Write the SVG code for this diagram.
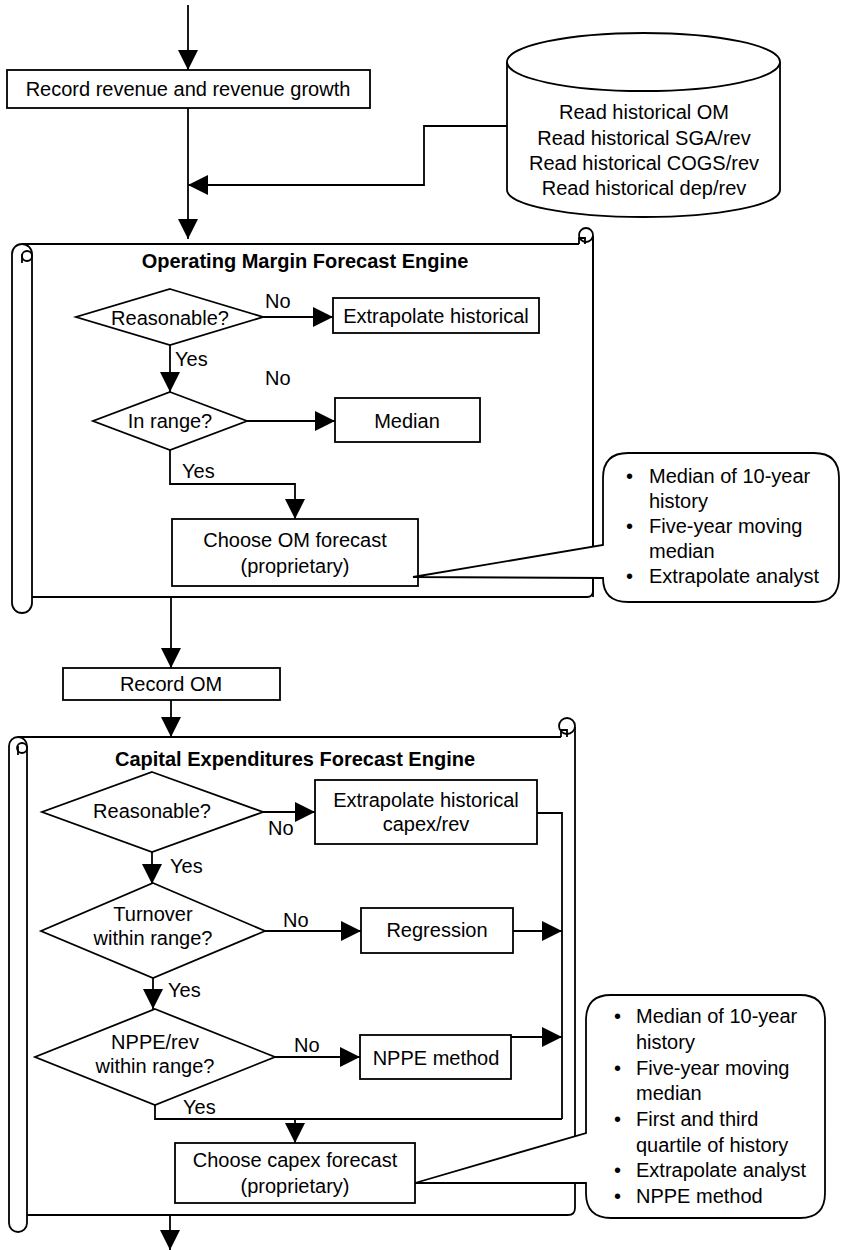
<svg xmlns="http://www.w3.org/2000/svg" width="842" height="1250" viewBox="0 0 842 1250">
  <style>
    .shape { fill: #ffffff; stroke: #000000; stroke-width: 1.8; }
    .open { fill: none; stroke: #000000; stroke-width: 1.8; }
    .wire { fill: none; stroke: #000000; stroke-width: 1.8; }
    .arrow { fill: none; stroke: #000000; stroke-width: 1.8; marker-end: url(#head); }
    text { font-family: "Liberation Sans", Arial, Helvetica, sans-serif; font-size: 20px; fill: #000000; }
    .c { text-anchor: middle; }
    .title { font-weight: bold; text-anchor: middle; }
  </style>
  <defs>
    <marker id="head" viewBox="0 0 20 20" refX="20" refY="10" markerWidth="20" markerHeight="20" markerUnits="userSpaceOnUse" orient="auto">
      <path d="M0,0 L20,10 L0,20 Z" fill="#000000"/>
    </marker>
  </defs>

  <rect width="842" height="1250" fill="#ffffff"/>

  <!-- Operating margin engine frame (scroll) -->
  <g id="om-engine">
    <path class="shape" d="M22 244 H579 M593 236 V591 Q593 597 587 597 H32"/>
    <path class="open" d="M593 236 V597"/>
    <circle class="open" cx="586" cy="235" r="7"/>
    <path class="open" d="M579 244 V238 H585 V244"/>
    <path class="shape" d="M12 603 V254 A10 10 0 0 1 32 254 V603 A10 10 0 0 1 12 603 Z"/>
    <circle class="open" cx="27" cy="256" r="5"/>
    <path class="open" d="M22 254 V263"/>
    <text class="title" x="305" y="268">Operating Margin Forecast Engine</text>
  </g>

  <!-- Capital expenditures engine frame (scroll) -->
  <g id="capex-engine">
    <path class="shape" d="M18 737 H561 M575 727 V1208 Q575 1215 568 1215 H27"/>
    <circle class="open" cx="567" cy="726" r="8"/>
    <path class="open" d="M561 737 V730 H567 V737"/>
    <path class="shape" d="M9 1223 V746 A9 9 0 0 1 27 746 V1223 A9 9 0 0 1 9 1223 Z"/>
    <circle class="open" cx="22" cy="748" r="5"/>
    <path class="open" d="M18 746 V755"/>
    <text class="title" x="295" y="766">Capital Expenditures Forecast Engine</text>
  </g>

  <!-- Connectors -->
  <g id="connectors">
    <path class="arrow" d="M188 5 V70"/>
    <path class="wire" d="M188 108 V185"/>
    <path class="arrow" d="M508 126 H424 V185 H188"/>
    <path class="arrow" d="M188 185 V239"/>

    <path class="arrow" d="M263 317 H333"/>
    <path class="arrow" d="M170 345 V392"/>
    <path class="arrow" d="M247 421 H335"/>
    <path class="arrow" d="M170 450 V484 H295 V519"/>

    <path class="arrow" d="M171 597 V668"/>
    <path class="arrow" d="M171 700 V737"/>

    <path class="arrow" d="M263 812 H315"/>
    <path class="wire" d="M537 813 H562 V1119"/>
    <path class="arrow" d="M152 852 V884"/>
    <path class="arrow" d="M265 931 H361"/>
    <path class="arrow" d="M513 931 H562"/>
    <path class="arrow" d="M153 978 V1009"/>
    <path class="arrow" d="M275 1057 H360"/>
    <path class="arrow" d="M511 1037 H562"/>
    <path class="wire" d="M155 1105 V1119 H562"/>
    <path class="arrow" d="M295 1119 V1143"/>
    <path class="arrow" d="M170 1215 V1250"/>

    <text x="265" y="308">No</text>
    <text x="175" y="366">Yes</text>
    <text x="265" y="385">No</text>
    <text x="182" y="478">Yes</text>
    <text x="268" y="835">No</text>
    <text x="170" y="873">Yes</text>
    <text x="283" y="927">No</text>
    <text x="168" y="997">Yes</text>
    <text x="294" y="1052">No</text>
    <text x="183" y="1114">Yes</text>
  </g>

  <g id="record-revenue">
    <rect class="shape" x="7" y="70" width="363" height="38"/>
    <text class="c" x="188" y="96">Record revenue and revenue growth</text>
  </g>

  <g id="historical-data">
    <path class="shape" d="M507 62 A136.5 29 0 0 1 780 62 V190 A136.5 27 0 0 1 507 190 Z"/>
    <path class="open" d="M507 62 A136.5 29 0 0 0 780 62"/>
    <text class="c" x="644" y="119">Read historical OM</text>
    <text class="c" x="644" y="145">Read historical SGA/rev</text>
    <text class="c" x="644" y="170">Read historical COGS/rev</text>
    <text class="c" x="644" y="195">Read historical dep/rev</text>
  </g>

  <g id="om-reasonable">
    <path class="shape" d="M170 289 L263 317 L170 345 L76 317 Z"/>
    <text class="c" x="170" y="325">Reasonable?</text>
  </g>

  <g id="om-extrapolate">
    <rect class="shape" x="333" y="298" width="206" height="35"/>
    <text class="c" x="436" y="323">Extrapolate historical</text>
  </g>

  <g id="om-in-range">
    <path class="shape" d="M170 392 L247 421 L170 450 L93 421 Z"/>
    <text class="c" x="170" y="428">In range?</text>
  </g>

  <g id="om-median">
    <rect class="shape" x="335" y="398" width="145" height="44"/>
    <text class="c" x="407" y="428">Median</text>
  </g>

  <g id="om-choose">
    <rect class="shape" x="172" y="519" width="246" height="67"/>
    <text class="c" x="295" y="547">Choose OM forecast</text>
    <text class="c" x="295" y="573">(proprietary)</text>
  </g>

  <g id="om-methods">
    <path class="shape" d="M603 545 V478 Q603 453 628 453 H814 Q839 453 839 478 V577 Q839 602 814 602 H628 Q603 602 603 578 L413 577 Z"/>
    <text x="626" y="483">•</text><text x="649" y="483">Median of 10-year</text>
    <text x="649" y="508">history</text>
    <text x="626" y="533">•</text><text x="649" y="533">Five-year moving</text>
    <text x="649" y="558">median</text>
    <text x="626" y="583">•</text><text x="649" y="583">Extrapolate analyst</text>
  </g>

  <g id="record-om">
    <rect class="shape" x="63" y="668" width="217" height="32"/>
    <text class="c" x="171" y="691">Record OM</text>
  </g>

  <g id="capex-reasonable">
    <path class="shape" d="M152 772 L263 812 L152 852 L42 812 Z"/>
    <text class="c" x="152" y="818">Reasonable?</text>
  </g>

  <g id="capex-extrapolate">
    <rect class="shape" x="315" y="780" width="222" height="64"/>
    <text class="c" x="426" y="807">Extrapolate historical</text>
    <text class="c" x="426" y="831">capex/rev</text>
  </g>

  <g id="capex-turnover">
    <path class="shape" d="M153 883 L265 931 L153 978 L41 931 Z"/>
    <text class="c" x="153" y="921">Turnover</text>
    <text class="c" x="153" y="945">within range?</text>
  </g>

  <g id="capex-regression">
    <rect class="shape" x="361" y="908" width="152" height="45"/>
    <text class="c" x="437" y="937">Regression</text>
  </g>

  <g id="capex-nppe-rev">
    <path class="shape" d="M155 1009 L275 1057 L155 1105 L35 1057 Z"/>
    <text class="c" x="155" y="1049">NPPE/rev</text>
    <text class="c" x="155" y="1073">within range?</text>
  </g>

  <g id="capex-nppe-method">
    <rect class="shape" x="360" y="1035" width="151" height="44"/>
    <text class="c" x="436" y="1065">NPPE method</text>
  </g>

  <g id="capex-choose">
    <rect class="shape" x="175" y="1143" width="240" height="60"/>
    <text class="c" x="295" y="1167">Choose capex forecast</text>
    <text class="c" x="295" y="1193">(proprietary)</text>
  </g>

  <g id="capex-methods">
    <path class="shape" d="M586 1133 V1020 Q586 995 611 995 H800 Q825 995 825 1020 V1193 Q825 1218 800 1218 H611 Q586 1218 586 1193 V1183 L415 1183 Z"/>
    <text x="614" y="1023">•</text><text x="636" y="1023">Median of 10-year</text>
    <text x="636" y="1049">history</text>
    <text x="614" y="1075">•</text><text x="636" y="1075">Five-year moving</text>
    <text x="636" y="1100">median</text>
    <text x="614" y="1126">•</text><text x="636" y="1126">First and third</text>
    <text x="636" y="1152">quartile of history</text>
    <text x="614" y="1177">•</text><text x="636" y="1177">Extrapolate analyst</text>
    <text x="614" y="1203">•</text><text x="636" y="1203">NPPE method</text>
  </g>
</svg>
